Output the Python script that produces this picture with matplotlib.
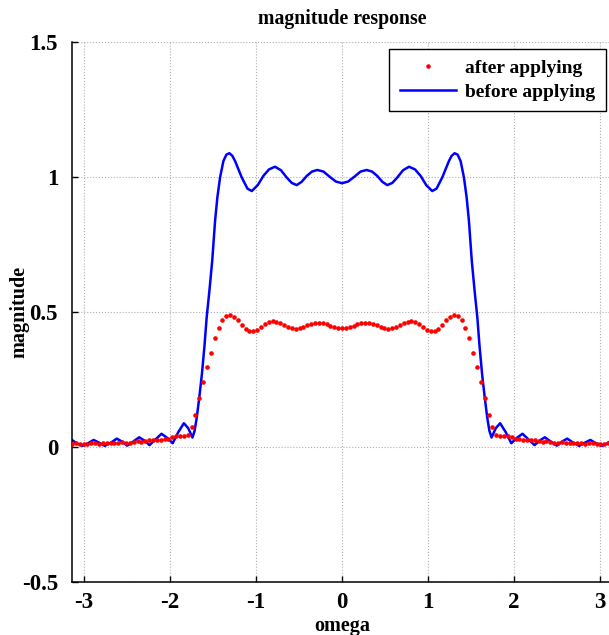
import numpy as np
import matplotlib
matplotlib.use("Agg")
import matplotlib.pyplot as plt

# "before applying" curve (omega, magnitude)
blue_w = [-3.142, -3.08, -3.02, -2.955, -2.89, -2.825, -2.76, -2.69, -2.62, -2.56,
          -2.50, -2.43, -2.36, -2.30, -2.24, -2.17, -2.10, -2.035, -1.97, -1.905,
          -1.84, -1.79, -1.74, -1.715, -1.69, -1.66, -1.63, -1.60, -1.575, -1.543,
          -1.51, -1.477, -1.45, -1.419, -1.38, -1.345, -1.31, -1.275, -1.244, -1.166,
          -1.10, -1.05, -0.98, -0.915, -0.85, -0.78, -0.71, -0.643, -0.585, -0.527,
          -0.47, -0.41, -0.35, -0.287, -0.215, -0.14, -0.07, 0.0,
          0.07, 0.14, 0.215, 0.287, 0.35, 0.41, 0.47, 0.527, 0.585, 0.643,
          0.71, 0.78, 0.85, 0.915, 0.98, 1.05, 1.10, 1.166, 1.244, 1.275,
          1.31, 1.345, 1.38, 1.419, 1.45, 1.477, 1.51, 1.543, 1.575, 1.60,
          1.63, 1.66, 1.69, 1.715, 1.74, 1.79, 1.84, 1.905, 1.97, 2.035,
          2.10, 2.17, 2.24, 2.30, 2.36, 2.43, 2.50, 2.56, 2.62, 2.69,
          2.76, 2.825, 2.89, 2.955, 3.02, 3.08, 3.142]
blue_mag = [0.026, 0.012, 0.004, 0.014, 0.026, 0.016, 0.004, 0.016, 0.031, 0.020,
            0.005, 0.020, 0.036, 0.024, 0.007, 0.028, 0.049, 0.034, 0.014, 0.055,
            0.088, 0.070, 0.035, 0.060, 0.109, 0.185, 0.270, 0.375, 0.479, 0.578,
            0.690, 0.837, 0.925, 0.998, 1.059, 1.083, 1.088, 1.078, 1.059, 0.998,
            0.957, 0.948, 0.970, 1.004, 1.028, 1.038, 1.025, 0.998, 0.978, 0.970,
            0.982, 1.004, 1.020, 1.026, 1.020, 1.000, 0.983, 0.977,
            0.983, 1.000, 1.020, 1.026, 1.020, 1.004, 0.982, 0.970, 0.978, 0.998,
            1.025, 1.038, 1.028, 1.004, 0.970, 0.948, 0.957, 0.998, 1.059, 1.078,
            1.088, 1.083, 1.059, 0.998, 0.925, 0.837, 0.690, 0.578, 0.479, 0.375,
            0.270, 0.185, 0.109, 0.060, 0.035, 0.070, 0.088, 0.055, 0.014, 0.034,
            0.049, 0.028, 0.007, 0.024, 0.036, 0.020, 0.005, 0.020, 0.031, 0.016,
            0.004, 0.016, 0.026, 0.014, 0.004, 0.012, 0.026]

# "after applying" samples, evenly spaced from -pi to pi
red_w = np.linspace(-np.pi, np.pi, 141)
red_mag = [0.012, 0.013, 0.012, 0.011, 0.012, 0.014, 0.013, 0.012, 0.013, 0.015,
           0.014, 0.013, 0.015, 0.017, 0.016, 0.016, 0.019, 0.021, 0.020, 0.021,
           0.025, 0.027, 0.026, 0.027, 0.028, 0.030, 0.036, 0.041, 0.042, 0.040,
           0.045, 0.073, 0.120, 0.180, 0.240, 0.297, 0.350, 0.402, 0.442, 0.470,
           0.485, 0.489, 0.483, 0.470, 0.453, 0.437, 0.428, 0.428, 0.435, 0.446,
           0.456, 0.462, 0.465, 0.464, 0.459, 0.452, 0.445, 0.440, 0.438, 0.440,
           0.445, 0.451, 0.456, 0.460, 0.461, 0.459, 0.454, 0.448, 0.443, 0.440,
           0.439,
           0.440, 0.443, 0.448, 0.454, 0.459, 0.461, 0.460, 0.456, 0.451, 0.445,
           0.440, 0.438, 0.440, 0.445, 0.452, 0.459, 0.464, 0.465, 0.462, 0.456,
           0.446, 0.435, 0.428, 0.428, 0.437, 0.453, 0.470, 0.483, 0.489, 0.485,
           0.470, 0.442, 0.402, 0.350, 0.297, 0.240, 0.180, 0.120, 0.073, 0.045,
           0.040, 0.042, 0.041, 0.036, 0.030, 0.028, 0.027, 0.026, 0.027, 0.025,
           0.021, 0.020, 0.021, 0.019, 0.016, 0.016, 0.017, 0.015, 0.013, 0.014,
           0.015, 0.013, 0.012, 0.013, 0.014, 0.012, 0.011, 0.012, 0.013, 0.012]

xticks = [-3, -2, -1, 0, 1, 2, 3]
yticks = [-0.5, 0, 0.5, 1, 1.5]
ytick_labels = ['-0.5', '0', '0.5', '1', '1.5']

plt.rcParams['font.family'] = ['Liberation Serif', 'DejaVu Serif']
plt.rcParams['font.weight'] = 'bold'

fig = plt.figure(figsize=(6.09, 6.35), dpi=100)
ax = fig.add_axes([72/609, 53/635, 540/609, 540/635])

ax.plot(red_w, red_mag, 'o', color='red', markersize=3.3, markeredgewidth=0,
        label='after applying', zorder=3)
ax.plot(blue_w, blue_mag, '-', color='blue', lw=1.8, label='before applying', zorder=2)

ax.set_xlim(-np.pi, np.pi)
ax.set_ylim(-0.5, 1.5)
ax.set_xticks(xticks)
ax.set_xticklabels([str(t) for t in xticks])
ax.set_yticks(yticks)
ax.set_yticklabels(ytick_labels)
ax.tick_params(direction='in', length=4, width=1, labelsize=16.5)
ax.tick_params(axis='y', pad=10)
ax.tick_params(axis='x', pad=7)
for lab in ax.get_xticklabels() + ax.get_yticklabels():
    lab.set_fontweight('bold')

ax.grid(True, linestyle=':', color='#b0b0b0', lw=0.8)
ax.spines['top'].set_visible(False)
ax.spines['right'].set_visible(False)
ax.spines['left'].set_linewidth(1.1)
ax.spines['bottom'].set_linewidth(1.1)

ax.set_title('magnitude response', fontsize=14.2, fontweight='bold', pad=13)
ax.set_xlabel('omega', fontsize=14.5, fontweight='bold', labelpad=2)
ax.set_ylabel('magnitude', fontsize=14.5, fontweight='bold')
ax.yaxis.set_label_coords(-0.079, 0.5)

leg = ax.legend(loc='upper right', bbox_to_anchor=(606/609, 1 - 49/635),
                bbox_transform=fig.transFigure, fancybox=False, framealpha=1,
                edgecolor='black', prop={'size': 14, 'weight': 'bold'},
                handlelength=2.9, borderpad=0.55, labelspacing=0.3,
                handletextpad=0.45, borderaxespad=0, markerscale=1.0)
leg.get_frame().set_linewidth(1.0)

fig.savefig('out.png', dpi=100)
